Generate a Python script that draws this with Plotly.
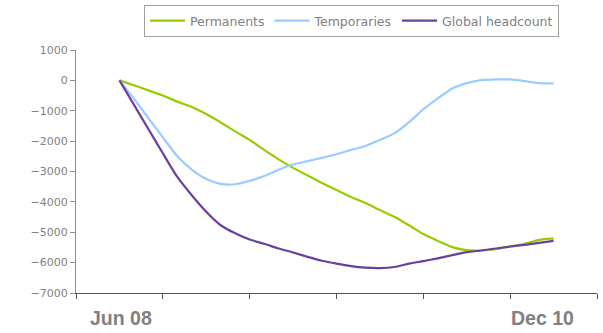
import plotly.graph_objects as go

# month index: 0 = Jun 08 ... 30 = Dec 10
months = list(range(31))

permanents = [0, -160, -330, -500, -700, -880, -1110, -1385, -1680, -1960,
              -2290, -2600, -2880, -3130, -3380, -3610, -3840, -4040, -4270, -4490,
              -4770, -5060, -5285, -5490, -5590, -5600, -5560, -5470, -5380, -5250, -5200]

temporaries = [0, -600, -1240, -1875, -2500, -2940, -3250, -3410, -3420, -3310,
               -3150, -2940, -2770, -2660, -2550, -2430, -2290, -2160, -1960, -1745,
               -1385, -950, -590, -265, -90, 10, 30, 30, -25, -90, -100]

global_headcount = [0, -800, -1600, -2400, -3180, -3780, -4325, -4770, -5035, -5240,
                    -5380, -5535, -5665, -5810, -5940, -6035, -6115, -6165, -6180, -6145,
                    -6035, -5950, -5860, -5755, -5655, -5600, -5535, -5470, -5415, -5350, -5285]

series_names = ["Permanents", "Temporaries", "Global headcount"]
series_colors = ["#99cc00", "#99ccff", "#6b3fa0"]
x_labels = ["Jun 08", "Dec 10"]
x_label_pos = [0.1, 29.2]

fig = go.Figure()
for name, vals, col in zip(series_names, [permanents, temporaries, global_headcount], series_colors):
    fig.add_trace(go.Scatter(
        x=months, y=vals, name=name, mode="lines",
        line=dict(color=col, width=2.2, shape="spline", smoothing=0.6),
    ))

for lab, pos in zip(x_labels, x_label_pos):
    fig.add_annotation(
        x=pos, xref="x", y=-0.103, yref="paper", text="<b>" + lab + "</b>",
        showarrow=False, xanchor="center", yanchor="middle",
        font=dict(family="Liberation Sans, Arial, sans-serif", size=19.5, color="#808080"),
    )

fig.update_layout(
    width=603, height=333,
    margin=dict(l=76, r=6, t=50, b=40, autoexpand=False),
    paper_bgcolor="white", plot_bgcolor="white",
    font=dict(family="DejaVu Sans, sans-serif", size=11, color="#808080"),
    showlegend=True,
    legend=dict(
        orientation="h", x=0.1305, y=1.185, xanchor="left", yanchor="top",
        bordercolor="#a0a0a0", borderwidth=1,
        font=dict(family="DejaVu Sans, sans-serif", size=12.5, color="#808080"),
        itemwidth=35, tracegroupgap=0,
    ),
    xaxis=dict(
        range=[-3, 33], tickvals=list(range(-3, 34, 6)), showticklabels=False,
        ticks="outside", ticklen=5, tickcolor="#555555", tickwidth=1,
        showline=True, linecolor="#555555", linewidth=1.3,
        showgrid=False, zeroline=False, fixedrange=True,
    ),
    yaxis=dict(
        range=[-7000, 1000], tickvals=list(range(-7000, 1001, 1000)),
        ticks="outside", ticklen=5, tickcolor="#909090", tickwidth=1,
        showline=True, linecolor="#909090", linewidth=1,
        showgrid=False, zeroline=False, fixedrange=True,
        tickfont=dict(family="DejaVu Sans, sans-serif", size=11, color="#808080"),
    ),
)

fig.write_html("out.html", config={"displayModeBar": False})

# remove the default page margin so the figure sits at the window's top-left corner
with open("out.html", "r", encoding="utf-8") as f:
    html = f.read()
html = html.replace("<head>", "<head><style>html,body{margin:0;padding:0;overflow:hidden;}</style>", 1)
with open("out.html", "w", encoding="utf-8") as f:
    f.write(html)
